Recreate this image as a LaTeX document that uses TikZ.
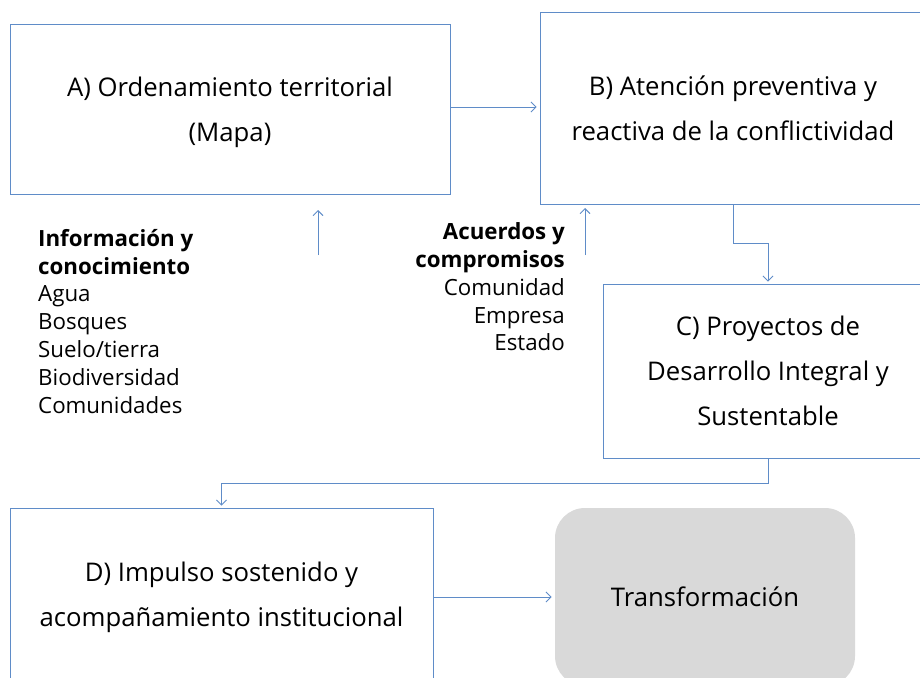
\documentclass[tikz,border=0pt]{standalone}
\usepackage{fontspec}
\setmainfont{Open Sans}
\usetikzlibrary{arrows.meta}
\definecolor{lineblue}{RGB}{95,140,200}
\definecolor{tgray}{RGB}{217,217,217}
\tikzset{
  box/.style={draw=lineblue, line width=0.9pt, align=center, inner sep=0pt,
    font=\fontsize{25.7}{45}\selectfont},
  conn/.style={draw=lineblue, line width=0.9pt, -{Straight Barb[length=5pt,width=10pt]}},
  side/.style={inner sep=0pt, font=\fontsize{22.3}{27.8}\selectfont}
}
\begin{document}
\begin{tikzpicture}[x=1pt,y=-1pt]
\useasboundingbox (0,0) rectangle (920,677);
\clip (0,0) rectangle (920,677);
\node[box, minimum width=440pt, minimum height=170pt, text depth=0pt] (A) at (230,109) {A) Ordenamiento territorial\\(Mapa)};
\node[box, minimum width=386pt, minimum height=192pt] (B) at (733,108) {B) Atención preventiva y\\reactiva de la conflictividad};
\node[box, minimum width=330pt, minimum height=174pt] (C) at (768,371) {C) Proyectos de\\Desarrollo Integral y\\Sustentable};
\node[box, minimum width=423pt, minimum height=178pt] (D) at (221.5,597) {D) Impulso sostenido y\\acompañamiento institucional};
\node[box, draw=none, fill=tgray, rounded corners=30pt, minimum width=300pt, minimum height=178pt] (T) at (705,597) {Transformación};

\node[side, anchor=north west, align=left] (info) at (38,229) {\textbf{Información y}\\\textbf{conocimiento}\\Agua\\Bosques\\Suelo/tierra\\Biodiversidad\\Comunidades};
\node[side, anchor=north east, align=right] (acu) at (565,222.5) {\textbf{Acuerdos y}\\\textbf{compromisos}\\Comunidad\\Empresa\\Estado};

\coordinate (u1s) at (318,255);
\coordinate (u1e) at (318,210);
\coordinate (u2s) at (585,255);
\coordinate (u2e) at (585,208);

\draw[conn, shorten >=3pt] (A.east |- 0,107) -- (B.west |- 0,107);
\draw[conn] (u1s) -- (u1e);
\draw[conn] (u2s) -- (u2e);
\draw[conn, shorten >=2pt] (B.south) -- ++(0,39) -| (C.north);
\draw[conn, shorten >=2pt] (C.south) -- ++(0,25) -| (D.north);
\draw[conn, shorten >=3pt] (D.east) -- (T.west);
\end{tikzpicture}
\end{document}
